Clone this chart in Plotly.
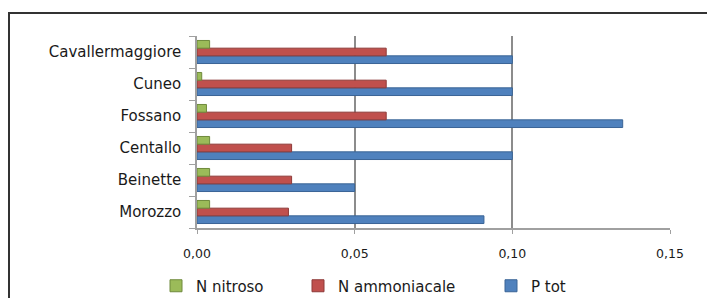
import plotly.graph_objects as go

categories = ["Morozzo", "Beinette", "Centallo", "Fossano", "Cuneo", "Cavallermaggiore"]
n_nitroso = [0.004, 0.004, 0.004, 0.003, 0.0015, 0.004]
n_ammoniacale = [0.029, 0.030, 0.030, 0.060, 0.060, 0.060]
p_tot = [0.091, 0.050, 0.100, 0.135, 0.100, 0.100]
x_ticks = [0.0, 0.05, 0.10, 0.15]

FONT = "DejaVu Sans"

# page has an 8px body margin; figure sized/offset to compensate
W, H = 707, 290
L, R, T, B = 189, 45, 28, 70
PW, PH = W - L - R, H - T - B


def px(xf):
    return (xf - L) / PW


def py(yf):
    return (H - B - yf) / PH


fig = go.Figure()
fig.add_trace(go.Bar(y=categories, x=p_tot, name="P tot", orientation="h", legend="legend3",
                     marker=dict(color="#4F81BD", line=dict(color="#3A6496", width=1))))
fig.add_trace(go.Bar(y=categories, x=n_ammoniacale, name="N ammoniacale", orientation="h",
                     legend="legend2",
                     marker=dict(color="#C0504D", line=dict(color="#8E3A38", width=1))))
fig.add_trace(go.Bar(y=categories, x=n_nitroso, name="N nitroso", orientation="h", legend="legend",
                     marker=dict(color="#9BBB59", line=dict(color="#6F8A3C", width=1))))

leg_common = dict(orientation="h", xanchor="left", yanchor="middle", y=py(278),
                  font=dict(family=FONT, size=15, color="#1a1a1a"), itemwidth=30,
                  bgcolor="rgba(0,0,0,0)")

fig.update_layout(
    width=W, height=H,
    margin=dict(l=L, r=R, t=T, b=B, autoexpand=False),
    paper_bgcolor="white", plot_bgcolor="white",
    barmode="group", bargap=0.28, bargroupgap=0,
    font=dict(family=FONT, size=13, color="#1a1a1a"),
    showlegend=True,
    legend=dict(x=px(148), **leg_common),
    legend2=dict(x=px(290), **leg_common),
    legend3=dict(x=px(483), **leg_common),
    xaxis=dict(range=[0, 0.15], tickvals=x_ticks, tickformat=".2f",
               showgrid=True, gridcolor="#8C8C8C", gridwidth=1.5,
               showline=True, linecolor="#A0A0A0", linewidth=1.5,
               ticks="outside", ticklen=4, tickcolor="#A0A0A0",
               zeroline=False, tickfont=dict(family=FONT, size=12.5),
               ticklabelstandoff=9),
    yaxis=dict(categoryorder="array", categoryarray=categories,
               showline=True, linecolor="#A0A0A0", linewidth=1.5,
               ticks="outside", ticklen=6, tickcolor="#A0A0A0", tickson="boundaries",
               showgrid=False, tickfont=dict(family=FONT, size=15), ticklabelstandoff=11),
    separators=",.",
    shapes=[dict(type="rect", xref="paper", yref="paper",
                 x0=px(1), x1=px(W + 40), y0=py(H + 40), y1=py(5),
                 line=dict(color="#333333", width=2), fillcolor="rgba(0,0,0,0)", layer="below")],
)

fig.write_html("out.html")
